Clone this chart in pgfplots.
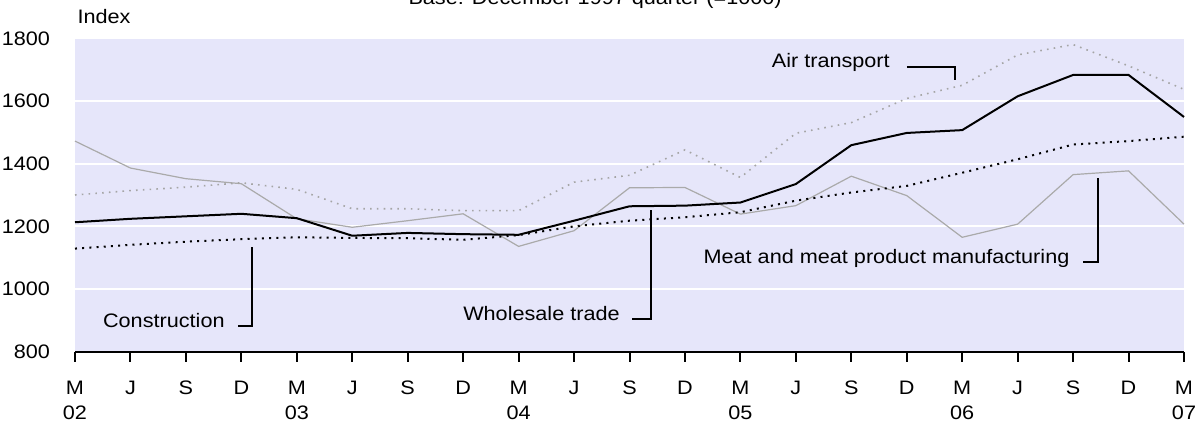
\documentclass[border=0pt]{standalone}
\usepackage{fontspec}
\setmainfont{Liberation Sans}[FakeStretch=1.11]
\usepackage{pgfplots}
\pgfplotsset{compat=1.18}

\definecolor{plotbg}{RGB}{230,230,250}
\definecolor{airgray}{RGB}{165,165,165}
\definecolor{meatgray}{RGB}{170,170,170}

\begin{document}
\begin{tikzpicture}[font=\fontsize{9.75}{12.5}\selectfont]
\begin{axis}[
    scale only axis,
    width=554.5pt, height=156.7pt,
    xmin=0, xmax=20, ymin=800, ymax=1800,
    axis background/.style={fill=plotbg},
    axis x line=bottom, axis y line=left,
    x axis line style={-, line width=1pt},
    y axis line style={draw=none},
    ytick={800,1000,...,1800},
    ymajorgrids, grid style={white, line width=0.9pt},
    xtick={0,...,20},
    xticklabels={{M\\02},J,S,D,{M\\03},J,S,D,{M\\04},J,S,D,{M\\05},J,S,D,{M\\06},J,S,D,{M\\07}},
    xticklabel style={align=center, yshift=-6pt, font=\fontsize{9.75}{12.5}\selectfont},
    yticklabel style={xshift=-4pt},
    tick align=outside, major tick length=5pt,
    xtick style={black, line width=1pt},
    ytick style={draw=none},
    /pgf/number format/assume math mode=true,
    /pgf/number format/1000 sep={},
    clip=false,
]
% Meat and meat product manufacturing
\addplot[meatgray, line width=0.6pt] coordinates {
 (0,1472) (1,1386) (2,1352) (3,1336) (4,1224) (5,1197) (6,1218) (7,1240)
 (8,1136) (9,1186) (10,1323) (11,1324) (12,1239) (13,1266) (14,1360)
 (15,1298) (16,1165) (17,1207) (18,1365) (19,1377) (20,1207)};
% Air transport
\addplot[airgray, line width=0.8pt, dash pattern=on 0.8pt off 2.6pt] coordinates {
 (0,1300) (1,1314) (2,1325) (3,1339) (4,1318) (5,1256) (6,1256) (7,1250)
 (8,1250) (9,1341) (10,1363) (11,1444) (12,1356) (13,1497) (14,1531)
 (15,1608) (16,1650) (17,1747) (18,1780) (19,1712) (20,1637)};
% Construction
\addplot[black, line width=1pt, dash pattern=on 1pt off 2.6pt] coordinates {
 (0,1129) (1,1141) (2,1151) (3,1159) (4,1165) (5,1163) (6,1162) (7,1157)
 (8,1172) (9,1200) (10,1218) (11,1229) (12,1245) (13,1282) (14,1308)
 (15,1329) (16,1371) (17,1414) (18,1461) (19,1472) (20,1486)};
% Wholesale trade
\addplot[black, line width=1pt] coordinates {
 (0,1213) (1,1224) (2,1232) (3,1240) (4,1226) (5,1170) (6,1179) (7,1175)
 (8,1173) (9,1218) (10,1264) (11,1266) (12,1276) (13,1335) (14,1459)
 (15,1498) (16,1507) (17,1615) (18,1683) (19,1683) (20,1549)};

% callouts
\node[anchor=east, inner sep=0pt] at (axis cs:14.70,1724) {Air transport};
\draw[line width=0.9pt] (axis cs:15.0,1708) -- (axis cs:15.87,1708) -- (axis cs:15.87,1667);
\node[anchor=east, inner sep=0pt] at (axis cs:9.83,923) {Wholesale trade};
\draw[line width=0.9pt] (axis cs:10.05,905) -- (axis cs:10.39,905) -- (axis cs:10.39,1252);
\node[anchor=east, inner sep=0pt] at (axis cs:2.705,901) {Construction};
\draw[line width=0.9pt] (axis cs:2.94,882) -- (axis cs:3.19,882) -- (axis cs:3.19,1135);
\node[anchor=east, inner sep=0pt] at (axis cs:17.94,1099) {Meat and meat product manufacturing};
\draw[line width=0.9pt] (axis cs:18.18,1086) -- (axis cs:18.45,1086) -- (axis cs:18.45,1354);

\node[anchor=base west, inner sep=0pt] at (rel axis cs:0.002,1.046) {Index};
\node[anchor=base, inner sep=0pt] at (rel axis cs:0.469,1.1063) {Base: December 1997 quarter (=1000)};

\coordinate (ll) at (rel axis cs:0,0);
\coordinate (ur) at (rel axis cs:1,1);
\end{axis}
\pgfresetboundingbox
\path[use as bounding box] ([shift={(-37.5pt,-37.65pt)}]ll) rectangle ([shift={(7.5pt,19.15pt)}]ur);
\end{tikzpicture}
\end{document}
